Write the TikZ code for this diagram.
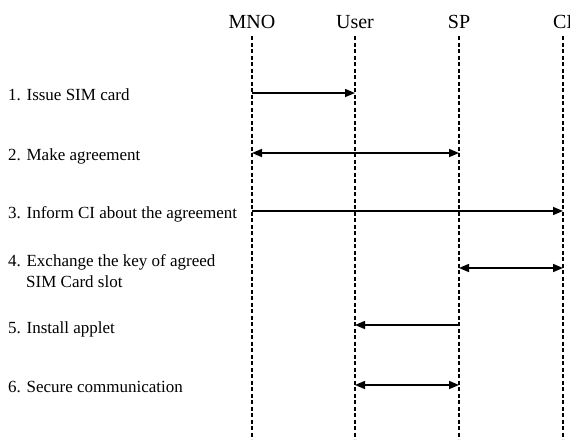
\documentclass[tikz,border=0pt]{standalone}
\usepackage{fontspec}
\setmainfont{Liberation Serif}
\usetikzlibrary{arrows.meta}
\begin{document}
\begin{tikzpicture}[x=1pt,y=-1pt,
  head/.style={font=\fontsize{20}{22}\selectfont, anchor=base, inner sep=0pt},
  steplabel/.style={font=\fontsize{17}{19}\selectfont, anchor=base west, inner sep=0pt},
  lifeline/.style={line width=1.3pt, dash pattern=on 4pt off 2.5pt},
  msg/.style={line width=1.5pt, -{Triangle[length=10pt,width=8pt]}},
  both/.style={line width=1.5pt, {Triangle[length=10pt,width=8pt]}-{Triangle[length=10pt,width=8pt]}}]
  \useasboundingbox (0,0) rectangle (570,439);

  % participants
  \node[head] (mno)  at (252,28) {MNO};
  \node[head] (user) at (355,28) {User};
  \node[head] (sp)   at (459,28) {SP};
  \node[head] (ci)   at (563,28) {CI};

  % lifeline ends
  \coordinate (mnoT) at (252,36);  \coordinate (mnoB) at (252,439);
  \coordinate (userT) at (355,36); \coordinate (userB) at (355,439);
  \coordinate (spT) at (459,36);   \coordinate (spB) at (459,439);
  \coordinate (ciT) at (563,36);   \coordinate (ciB) at (563,439);

  \foreach \p in {mno,user,sp,ci}
    \draw[lifeline] (\p T) -- (\p B);

  % message rows
  \coordinate (r1) at (0,93);
  \coordinate (r2) at (0,153);
  \coordinate (r3) at (0,211);
  \coordinate (r4) at (0,268);
  \coordinate (r5) at (0,325);
  \coordinate (r6) at (0,385);

  % step labels
  \node[steplabel] (l1) at (8,100) {1. Issue SIM card};
  \node[steplabel] (l2) at (8,160) {2. Make agreement};
  \node[steplabel] (l3) at (8,218) {3. Inform CI about the agreement};
  \node[steplabel] (l4) at (8,266) {4. Exchange the key of agreed};
  \node[steplabel] (l4b) at (26,287) {SIM Card slot};
  \node[steplabel] (l5) at (8,333) {5. Install applet};
  \node[steplabel] (l6) at (8,392) {6. Secure communication};

  % messages
  \draw[msg]  (mnoT |- r1) -- (userT |- r1);
  \draw[both] (mnoT |- r2) -- (spT |- r2);
  \draw[msg]  (mnoT |- r3) -- (ciT |- r3);
  \draw[both] (spT |- r4) -- (ciT |- r4);
  \draw[msg]  (spT |- r5) -- (userT |- r5);
  \draw[both] (userT |- r6) -- (spT |- r6);
\end{tikzpicture}
\end{document}
